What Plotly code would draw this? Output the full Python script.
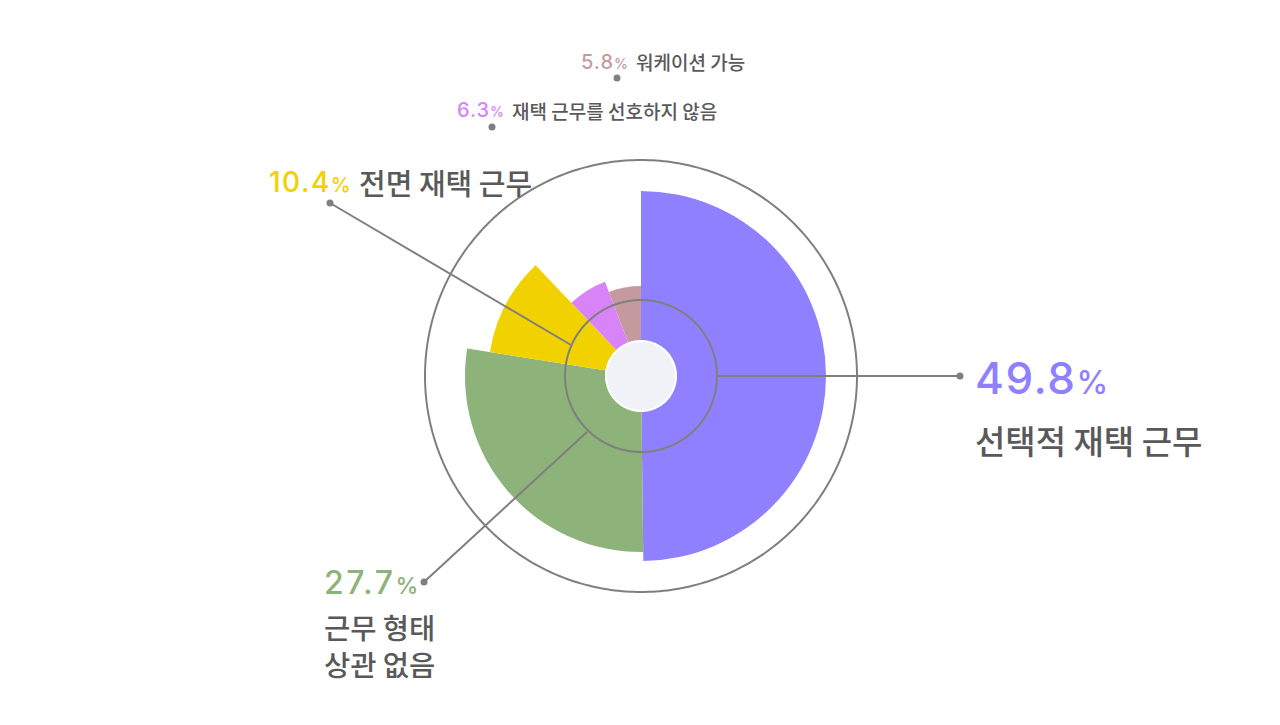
import numpy as np
import plotly.graph_objects as go

# survey shares (percent) and the bar length of each slice
categories = ["선택적 재택 근무", "근무 형태<br>상관 없음", "전면 재택 근무",
              "재택 근무를 선호하지 않음", "워케이션 가능"]
shares = [49.8, 27.7, 10.4, 6.3, 5.8]
bar_radius = [185, 176, 153, 101, 90]
colors = ["#8f80ff", "#8db37a", "#f2d100", "#d884f8", "#c49a9e"]

W, H = 1280, 725
OFF = 8  # page body margin
CX, CY, R = 641, 376, 220  # polar centre in pixels and radial range


def px(x):
    return (x - OFF) / W


def py(y):
    return 1 - (y - OFF) / H


widths = [s * 3.6 for s in shares]
theta = list(np.cumsum(widths) - np.array(widths) / 2)

fig = go.Figure()
fig.add_trace(go.Barpolar(
    r=bar_radius, theta=theta, width=widths,
    marker=dict(color=colors, line=dict(width=0)),
    hoverinfo="skip",
))

ring_theta = np.linspace(0, 360, 361)
# centre disc
fig.add_trace(go.Scatterpolar(
    r=[35] * len(ring_theta), theta=ring_theta, mode="lines",
    fill="toself", fillcolor="#f1f2f7", line=dict(color="white", width=2),
    hoverinfo="skip",
))
# inner and outer rings
for rr in (76, 216):
    fig.add_trace(go.Scatterpolar(
        r=[rr] * len(ring_theta), theta=ring_theta, mode="lines",
        line=dict(color="#7f7f7f", width=2), hoverinfo="skip",
    ))

fig.update_layout(
    width=W, height=H,
    margin=dict(l=0, r=0, t=0, b=0),
    paper_bgcolor="white", plot_bgcolor="white",
    showlegend=False,
    font=dict(family="Inter, Noto Sans CJK KR", color="#595959"),
    polar=dict(
        domain=dict(x=[px(CX - R), px(CX + R)], y=[py(CY + R), py(CY - R)]),
        bgcolor="rgba(0,0,0,0)",
        bargap=0,
        radialaxis=dict(visible=False, range=[0, R]),
        angularaxis=dict(visible=False, rotation=90, direction="clockwise"),
    ),
)

# leader lines with end dots
leaders = [
    ((717, 376), (960, 376)),
    ((571, 345), (330, 203)),
    ((587, 432), (424, 582)),
]
dots = [(960, 376), (330, 203), (424, 582), (492, 127), (617, 78)]
shapes = []
for (x0, y0), (x1, y1) in leaders:
    shapes.append(dict(type="line", xref="paper", yref="paper",
                       x0=px(x0), y0=py(y0), x1=px(x1), y1=py(y1),
                       line=dict(color="#7f7f7f", width=2)))
for x, y in dots:
    shapes.append(dict(type="circle", xref="paper", yref="paper",
                       x0=px(x - 3.5), y0=py(y + 3.5), x1=px(x + 3.5), y1=py(y - 3.5),
                       fillcolor="#7f7f7f", line=dict(width=0)))
fig.update_layout(shapes=shapes)


def pct(v, color, size, psize, sp):
    return (f"<span style='color:{color};font-size:{size}px;letter-spacing:{sp}px'>{v}</span>"
            f"<span style='color:{color};font-size:{psize}px'>%</span>")


ann = []
# (index, number x, number y, number size, letter spacing, label x, label y, label size)
label_pos = [
    (0, 973, 378, 44, 1.5, 973, 440, 33),
    (1, 322, 582, 32, 2.5, 322, 645, 28.5),
    (2, 267, 182, 28, 1.5, 357, 182, 29),
    (3, 455, 110, 20, 1.0, 510, 110, 19),
    (4, 579, 62, 20, 1.0, 634, 62, 19),
]
for i, nx, ny, ns, sp, lx, ly, ls in label_pos:
    ann.append(dict(text=pct(shares[i], colors[i], ns, round(ns * 0.72), sp),
                    x=px(nx), y=py(ny), xref="paper", yref="paper",
                    xanchor="left", yanchor="middle", showarrow=False,
                    font=dict(weight=500)))
    ann.append(dict(text=categories[i], x=px(lx), y=py(ly), xref="paper", yref="paper",
                    xanchor="left", yanchor="middle", align="left", showarrow=False,
                    font=dict(size=ls, color="#595959", weight=500,
                              family="Noto Sans CJK KR, Inter")))
fig.update_layout(annotations=ann)

fig.write_html("out.html")
